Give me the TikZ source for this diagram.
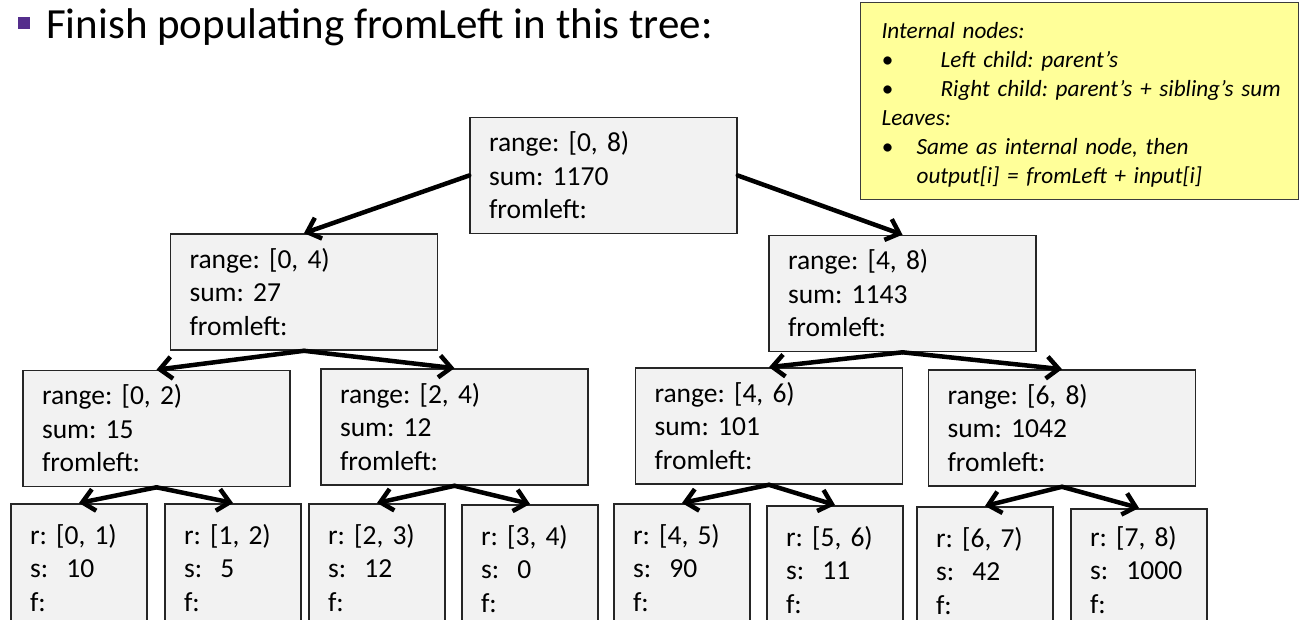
\documentclass[tikz,border=0pt]{standalone}
\usepackage{fontspec}
\setmainfont{Carlito}
\usetikzlibrary{arrows.meta}
\definecolor{boxfill}{RGB}{242,242,242}
\definecolor{boxline}{RGB}{38,38,38}
\definecolor{notefill}{RGB}{255,255,153}
\definecolor{noteline}{RGB}{60,60,60}
\definecolor{bulletc}{RGB}{84,46,140}
\begin{document}
\frenchspacing
\begin{tikzpicture}[x=1pt,y=-1pt,
  ibox/.style={draw=boxline, line width=1.6pt, fill=boxfill, align=left,
    text width=229pt, inner xsep=19pt, minimum height=116pt,
    font=\fontsize{27.5}{33.5}\selectfont\frenchspacing},
  lbox/.style={draw=boxline, line width=1.6pt, fill=boxfill, align=left,
    text width=98pt, inner xsep=19pt, minimum height=128pt,
    font=\fontsize{27.5}{33.5}\selectfont\frenchspacing},
  arr/.style={line width=4.5pt, line cap=round, line join=round,
    -{Straight Barb[length=12pt,width=22pt]}},
  notebox/.style={draw=noteline, line width=1.2pt, fill=notefill, align=left,
    text width=396pt, inner xsep=21pt, minimum height=197pt,
    font=\fontsize{23.2}{29}\selectfont\itshape\frenchspacing}
]
\useasboundingbox (0,0) rectangle (1301,620);
\clip (0,0) rectangle (1301,620);

% title
\fill[bulletc] (18,17) rectangle (30,29);
\node[anchor=base west, inner sep=0, font=\fontsize{43}{50}\selectfont\frenchspacing] (title) at (46,39) {Finish populating fromLeft in this tree:};

% note
\node[notebox, anchor=north west] (note) at (860,2) {\rule{0pt}{24pt}Internal nodes:\\
\mbox{\makebox[59pt][l]{•}Left child: parent’s}\\
\mbox{\makebox[59pt][l]{•}Right child: parent’s + sibling’s sum}\\
Leaves:\\
\mbox{\makebox[35pt][l]{•}Same as internal node, then}\\
\mbox{\hspace*{35pt}output[i] = fromLeft + input[i]}};

% internal nodes
\node[ibox] (root) at (603.5,175.5) {range: [0, 8)\\sum: 1170\\fromleft:};
\node[ibox] (n04) at (304,292) {range: [0, 4)\\sum: 27\\fromleft:};
\node[ibox] (n48) at (902.5,293.5) {range: [4, 8)\\sum: 1143\\fromleft:};
\node[ibox] (n02) at (156.5,428.5) {range: [0, 2)\\sum: 15\\fromleft:};
\node[ibox] (n24) at (454.5,427) {range: [2, 4)\\sum: 12\\fromleft:};
\node[ibox] (n46) at (769,426) {range: [4, 6)\\sum: 101\\fromleft:};
\node[ibox] (n68) at (1062,428) {range: [6, 8)\\sum: 1042\\fromleft:};

% leaves
\node[lbox, anchor=north] (l0) at (79,503) {r: [0, 1)\\s:\ \ 10\\f:};
\node[lbox, anchor=north] (l1) at (233,503) {r: [1, 2)\\s:\ \ 5\\f:};
\node[lbox, anchor=north] (l2) at (377,503) {r: [2, 3)\\s:\ \ 12\\f:};
\node[lbox, anchor=north] (l3) at (530,504) {r: [3, 4)\\s:\ \ 0\\f:};
\node[lbox, anchor=north] (l4) at (682,503) {r: [4, 5)\\s:\ \ 90\\f:};
\node[lbox, anchor=north] (l5) at (835,505) {r: [5, 6)\\s:\ \ 11\\f:};
\node[lbox, anchor=north] (l6) at (985,506) {r: [6, 7)\\s:\ \ 42\\f:};
\node[lbox, anchor=north, minimum height=122pt] (l7) at (1139,508) {r: [7, 8)\\s:\ \ 1000\\f:};

% connectors
\draw[arr] (root.west) -- (n04.north);
\draw[arr] (root.east) -- (n48.north);
\draw[arr] (n04.south) -- (n02.north);
\draw[arr] (n04.south) -- (n24.north);
\draw[arr] (n48.south) -- (n46.north);
\draw[arr] (n48.south) -- (n68.north);
\draw[arr] (n02.south) -- (l0.north);
\draw[arr] (n02.south) -- (l1.north);
\draw[arr] (n24.south) -- (l2.north);
\draw[arr] (n24.south) -- (l3.north);
\draw[arr] (n46.south) -- (l4.north);
\draw[arr] (n46.south) -- (l5.north);
\draw[arr] (n68.south) -- (l6.north);
\draw[arr] (n68.south) -- (l7.north);
\end{tikzpicture}
\end{document}
